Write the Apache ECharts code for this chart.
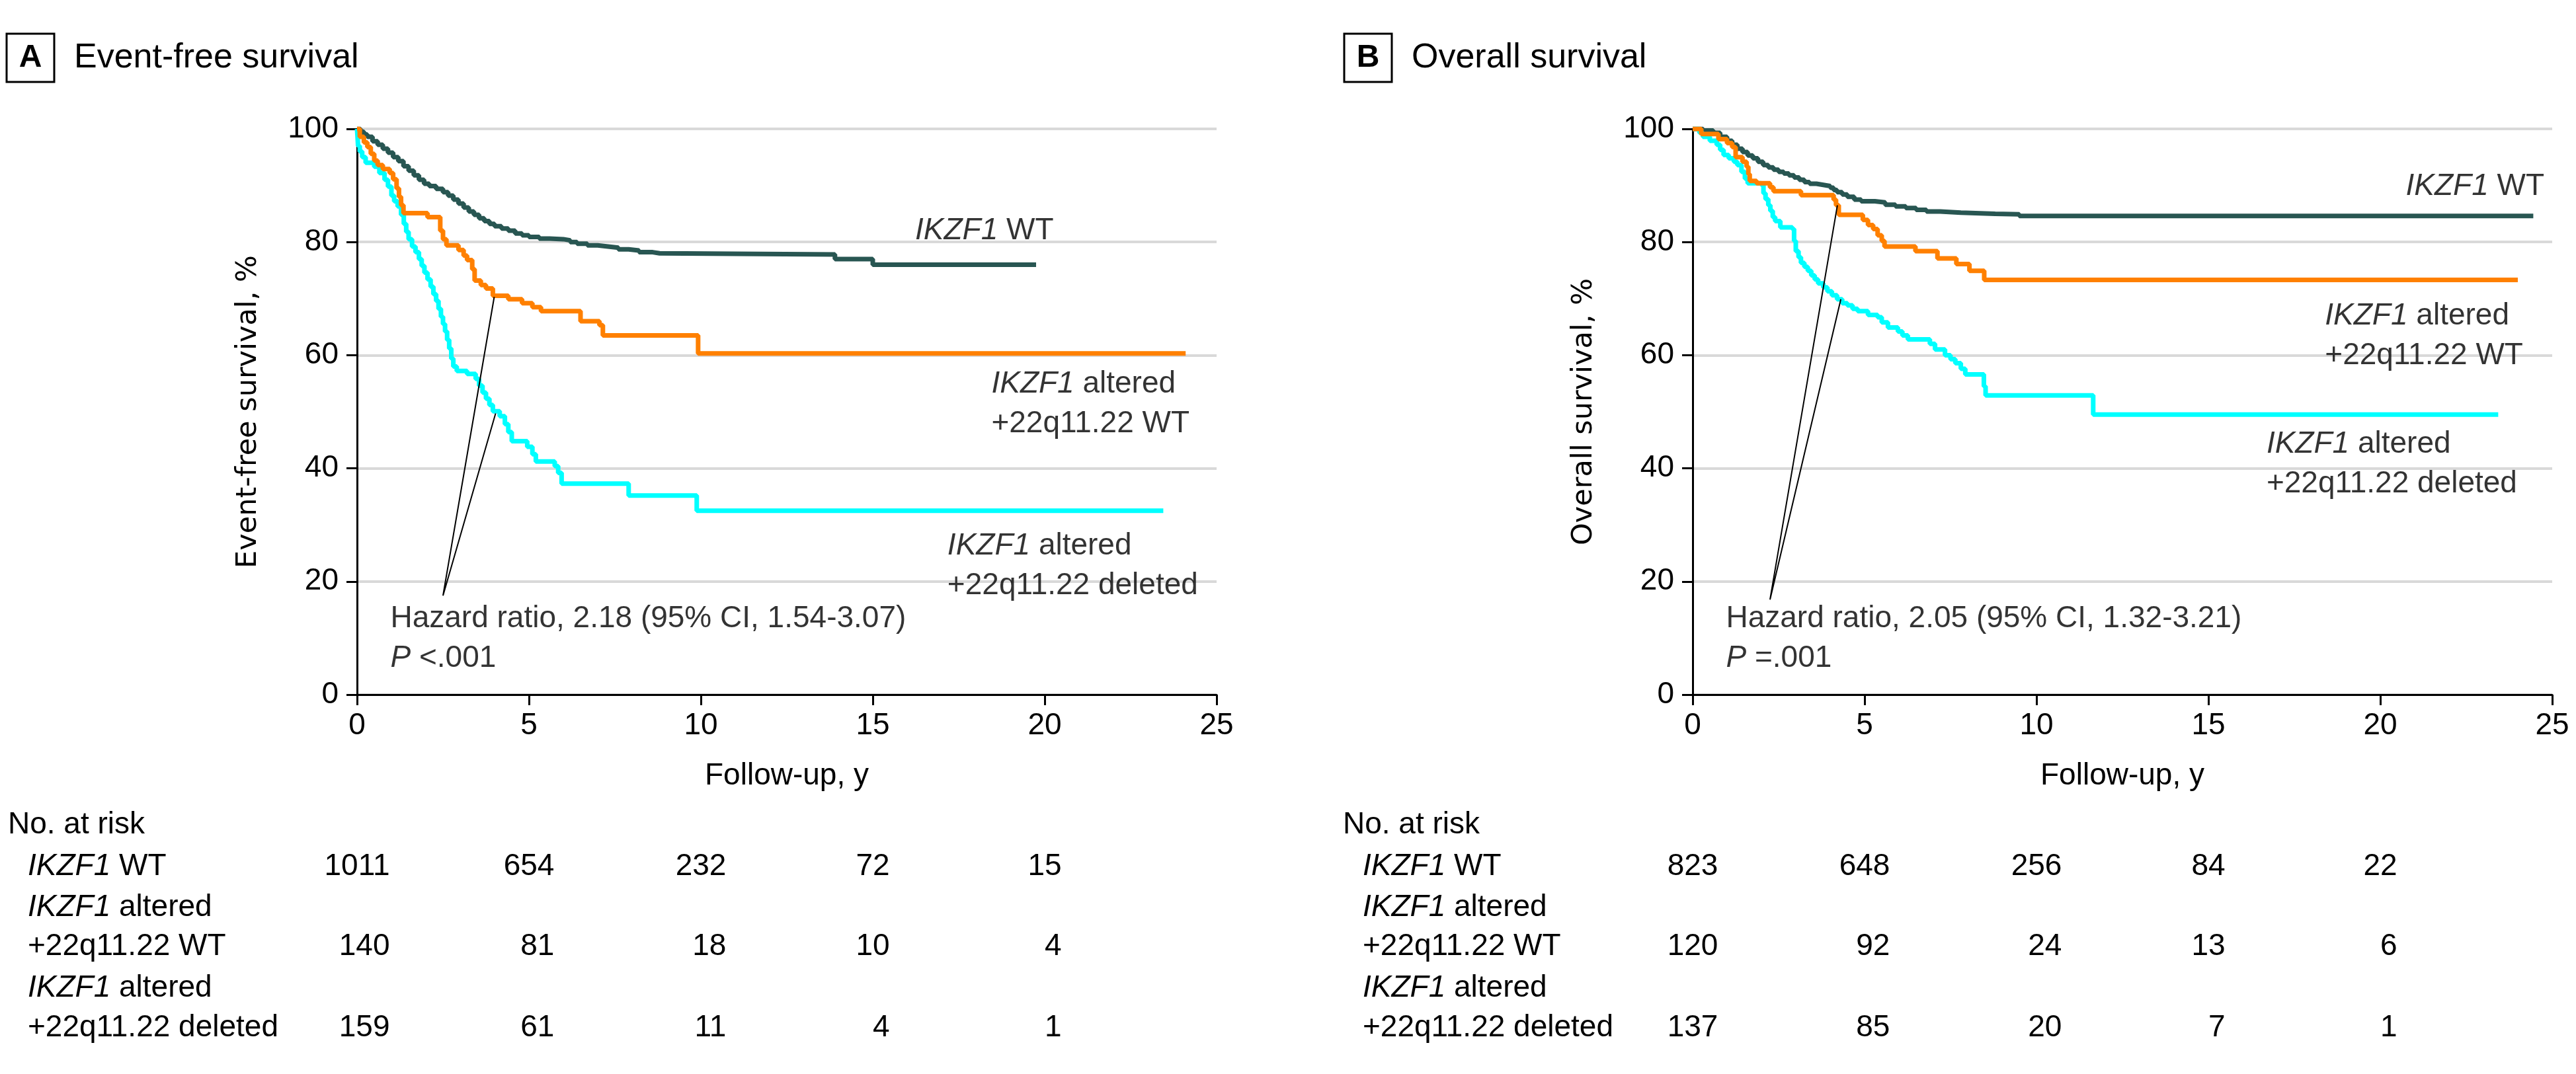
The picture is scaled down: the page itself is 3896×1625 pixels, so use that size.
<!DOCTYPE html>
<html>
<head>
<meta charset="utf-8">
<title>IKZF1 survival</title>
<script src="https://cdn.jsdelivr.net/npm/echarts@6/dist/echarts.min.js"></script>
<style>
    html, body { margin: 0; padding: 0; background: #fff; }
    #main { width: 3896px; height: 1625px; }
</style>
</head>
<body>
<div id="main"></div>
<script>
// ---- data ----
var riskTimes = [0, 5, 10, 15, 20];
var groupNames = ['IKZF1 WT', 'IKZF1 altered + 22q11.22 WT', 'IKZF1 altered + 22q11.22 deleted'];
var groupColors = ['#285652', '#ff8000', '#00ffff'];

// A: event-free survival, [year, % after the step]
var efsWT = [[0,100],[0.1,99.5],[0.2,99],[0.3,98.6],[0.45,97.8],[0.6,97.2],[0.75,96.5],[0.9,95.8],[1.05,95],[1.2,94.3],[1.35,93.4],[1.5,92.6],[1.65,91.8],[1.8,91],[1.95,90.3],[2.1,89.9],[2.3,89.4],[2.5,88.8],[2.65,88.2],[2.8,87.5],[2.95,86.8],[3.1,86.1],[3.25,85.4],[3.4,84.8],[3.55,84.2],[3.7,83.7],[3.85,83.2],[4,82.8],[4.2,82.4],[4.4,82],[4.6,81.5],[4.8,81.2],[5,80.9],[5.3,80.6],[5.6,80.5],[6,80.3],[6.2,80],[6.4,79.7],[6.7,79.4],[7,79.2],[7.3,79],[7.6,78.7],[7.9,78.5],[8.2,78.2],[8.6,78],[8.8,77.8],[13.9,77],[15,76],[19.75,76]];
var efsAltWT = [[0,100],[0.08,98.6],[0.2,97.6],[0.3,96.8],[0.4,95.6],[0.5,94.4],[0.6,93.6],[0.75,92.9],[0.95,92.2],[1.05,91.1],[1.15,89.5],[1.22,88],[1.28,86.5],[1.35,85.1],[2.05,84.4],[2.42,82],[2.5,80.5],[2.6,79.4],[2.95,78.6],[3.1,77.6],[3.2,76.8],[3.35,75.2],[3.42,73.2],[3.6,72.4],[3.75,71.8],[3.95,70.5],[4.4,69.9],[4.8,69.2],[5.1,68.5],[5.35,67.8],[6.5,66],[7.05,65.3],[7.15,63.5],[9.92,60.3],[24.1,60.3]];
var efsAltDel = [[0,100],[0.03,97],[0.08,96],[0.15,95],[0.25,94],[0.5,93.3],[0.65,92.2],[0.8,91],[0.9,89.8],[1,88.2],[1.08,87.2],[1.18,86.3],[1.28,84.8],[1.36,83.2],[1.43,81.8],[1.5,80.5],[1.6,79.2],[1.7,78.2],[1.8,77],[1.88,75.8],[1.96,74.6],[2.05,73.4],[2.14,72.1],[2.22,70.8],[2.3,69.6],[2.37,68.2],[2.44,66.8],[2.5,65.5],[2.56,64.2],[2.62,62.7],[2.68,61.2],[2.74,59.4],[2.8,58],[2.9,57.2],[3.2,56.7],[3.45,55.8],[3.55,54.6],[3.65,53.4],[3.75,52.3],[3.85,51.2],[3.95,50.1],[4.15,49.2],[4.3,47.8],[4.4,46.4],[4.5,44.8],[4.95,43.8],[5.1,42.5],[5.2,41.2],[5.75,40.4],[5.85,39.2],[5.95,37.3],[7.9,35.2],[9.88,32.5],[23.45,32.5]];

// B: overall survival
var osWT = [[0,100],[0.3,99.7],[0.6,99.3],[0.8,98.6],[1,97.9],[1.15,97.2],[1.3,96.5],[1.45,95.9],[1.6,95.3],[1.75,94.8],[1.9,94.2],[2.05,93.6],[2.2,93.2],[2.35,92.8],[2.5,92.4],[2.65,92.1],[2.8,91.8],[2.95,91.4],[3.1,91],[3.25,90.6],[3.4,90.3],[3.6,90.1],[3.8,89.9],[4,89.6],[4.1,89.2],[4.2,88.8],[4.35,88.4],[4.5,88],[4.7,87.5],[4.9,87.2],[5.3,87],[5.6,86.6],[5.9,86.3],[6.2,86],[6.5,85.7],[6.8,85.4],[7.2,85.2],[7.8,85],[8.8,84.9],[9.5,84.6],[24.45,84.6]];
var osAltWT = [[0,100],[0.25,99.1],[0.75,98.2],[1,97.5],[1.15,96.8],[1.25,95],[1.45,94.2],[1.57,93.3],[1.62,92],[1.66,90.8],[1.86,90.4],[2.25,89.7],[2.35,89],[3.15,88.3],[4.1,87.5],[4.17,86.5],[4.25,84.8],[4.95,83.9],[5.1,83],[5.25,82.3],[5.38,81.2],[5.5,80.2],[5.58,79.2],[6.48,78.4],[7.12,77.1],[7.67,76.1],[8.05,74.9],[8.48,73.3],[24,73.3]];
var osAltDel = [[0,100],[0.2,99.3],[0.3,98.6],[0.5,97.9],[0.7,97.2],[0.8,96.3],[0.9,95.4],[1.05,94.8],[1.2,94.2],[1.3,93.6],[1.42,92.4],[1.52,91.2],[1.6,90.4],[2,90.1],[2.06,88.6],[2.12,87.6],[2.2,86.5],[2.26,85.5],[2.33,84.4],[2.4,83.7],[2.55,82.6],[2.9,82.3],[2.95,80.2],[3,78.4],[3.08,77.3],[3.15,76.3],[3.25,75.6],[3.35,74.9],[3.45,74.1],[3.55,73.4],[3.65,72.7],[3.8,72],[3.92,71.3],[4.05,70.6],[4.2,69.9],[4.35,69.2],[4.5,68.8],[4.65,68.2],[4.8,67.8],[5.1,67.1],[5.38,66.7],[5.5,65.8],[5.68,64.9],[5.97,64.2],[6.1,63.5],[6.26,62.8],[6.9,62],[7.05,61],[7.34,60],[7.5,59.3],[7.64,58.6],[7.8,57.6],[7.93,56.6],[8.47,54.5],[8.52,52.9],[11.65,49.5],[23.43,49.5]];

// numbers at risk, rows follow groupNames
var efsRisk = [[1011, 654, 232, 72, 15], [140, 81, 18, 10, 4], [159, 61, 11, 4, 1]];
var osRisk = [[823, 648, 256, 84, 22], [120, 92, 24, 13, 6], [137, 85, 20, 7, 1]];

var efsHazard = ['Hazard ratio, 2.18 (95% CI, 1.54-3.07)', '<.001'];
var osHazard = ['Hazard ratio, 2.05 (95% CI, 1.32-3.21)', '=.001'];

// ---- layout ----
var FONT = '"Liberation Sans", Arial, sans-serif';
var FS = 46;

var panels = [
    {
        letter: 'A', title: 'Event-free survival', yName: 'Event-free survival, %',
        curves: [efsWT, efsAltWT, efsAltDel], risk: efsRisk, hazard: efsHazard,
        gridLeft: 540, boxX: 10, tableX: 12,
        // pointer lines: curve tip, bottom, curve tip
        pointer: [[3.99, 70.3], [2.5, 17.5], [4.03, 49.7]],
        // label anchors: left edge / vertical middle in data units
        labelAt: [[16.24, 81.9], [18.46, 51.3], [17.18, 22.7], [0.98, 9.8]]
    },
    {
        letter: 'B', title: 'Overall survival', yName: 'Overall survival, %',
        curves: [osWT, osAltWT, osAltDel], risk: osRisk, hazard: osHazard,
        gridLeft: 2560, boxX: 2033, tableX: 2031,
        pointer: [[4.21, 86.5], [2.25, 16.8], [4.31, 69.9]],
        labelAt: [[20.75, 89.7], [18.4, 63.35], [16.7, 40.7], [0.98, 9.8]]
    }
];

// label rich styles (series labels use color, raw graphic text uses fill)
var rich = {
    i: { fontStyle: 'italic', fontSize: FS, fontFamily: FONT, color: '#000', lineHeight: 60 },
    n: { fontSize: FS, fontFamily: FONT, color: '#000', lineHeight: 60 }
};
var richG = {
    i: { fontStyle: 'italic', fontSize: FS, fontFamily: FONT, fill: '#000' },
    n: { fontSize: FS, fontFamily: FONT, fill: '#000' }
};
var curveLabels = [
    '{i|IKZF1}{n| WT}',
    '{i|IKZF1}{n| altered}\n{n|+22q11.22 WT}',
    '{i|IKZF1}{n| altered}\n{n|+22q11.22 deleted}'
];

var myChart = echarts.init(document.getElementById('main'), null, { renderer: 'canvas' });

var grids = [], xAxes = [], yAxes = [], series = [];
panels.forEach(function (p, i) {
    grids.push({ left: p.gridLeft, top: 195, width: 1300, height: 856, outerBoundsMode: 'none' });
    xAxes.push({
        gridIndex: i, type: 'value', min: 0, max: 25, interval: 5,
        name: 'Follow-up, y', nameLocation: 'middle', nameGap: 100,
        nameTextStyle: { fontSize: FS, fontFamily: FONT, color: '#000' },
        axisLine: { show: true, onZero: false, lineStyle: { color: '#000', width: 3 } },
        axisTick: { show: true, length: 16, lineStyle: { color: '#000', width: 3 } },
        axisLabel: { fontSize: FS, fontFamily: FONT, color: '#000', margin: 24 },
        splitLine: { show: false }
    });
    yAxes.push({
        gridIndex: i, type: 'value', min: 0, max: 100, interval: 20,
        name: p.yName, nameLocation: 'middle', nameRotate: 90, nameGap: 143,
        nameTextStyle: { fontSize: 43, fontFamily: '"DejaVu Sans", sans-serif', color: '#000' },
        axisLine: { show: true, onZero: false, lineStyle: { color: '#000', width: 3 } },
        axisTick: { show: true, length: 16, lineStyle: { color: '#000', width: 3 } },
        axisLabel: { fontSize: FS, fontFamily: FONT, color: '#000', margin: 28 },
        splitLine: { show: true, lineStyle: { color: '#d9d9d9', width: 4 } }
    });

    // dark, cyan, then orange on top
    [0, 2, 1].forEach(function (g) {
        series.push({
            name: groupNames[g], type: 'line', xAxisIndex: i, yAxisIndex: i,
            data: p.curves[g], step: 'end', symbol: 'none', silent: true,
            lineStyle: { color: groupColors[g], width: 7 }, z: 3
        });
    });

    series.push({
        type: 'line', xAxisIndex: i, yAxisIndex: i, data: p.pointer,
        symbol: 'none', silent: true, lineStyle: { color: '#000', width: 2 }, z: 4
    });

    var labelTexts = curveLabels.concat(
        '{n|' + p.hazard[0] + '}\n{i|P}{n| ' + p.hazard[1] + '}'
    );
    series.push({
        type: 'scatter', xAxisIndex: i, yAxisIndex: i, silent: true, symbolSize: 1,
        itemStyle: { color: 'transparent' }, z: 5,
        data: p.labelAt.map(function (pt, k) {
            return {
                value: pt,
                label: {
                    show: true, position: [0, 0], align: 'left', verticalAlign: 'middle',
                    color: '#000', fontSize: FS, fontFamily: FONT,
                    formatter: labelTexts[k], rich: rich, lineHeight: 60
                }
            };
        })
    });
});

var option = {
    animation: false,
    backgroundColor: '#fff',
    grid: grids,
    xAxis: xAxes,
    yAxis: yAxes,
    series: series
};
myChart.setOption(option);

/* 标题和风险人数表 */
function textWidth(str) {
    var ctx = document.createElement('canvas').getContext('2d');
    ctx.font = FS + 'px ' + FONT;
    return ctx.measureText(str).width;
}

var graphics = [];
var rowY = [1311, 1373, 1432, 1495, 1555];
var rowText = ['{i|IKZF1}{n| WT}', '{i|IKZF1}{n| altered}', '{n|+22q11.22 WT}', '{i|IKZF1}{n| altered}', '{n|+22q11.22 deleted}'];
var numRow = [0, 2, 4];

panels.forEach(function (p, i) {
    graphics.push({
        type: 'rect', shape: { x: p.boxX, y: 51, width: 72, height: 73 },
        style: { fill: '#fff', stroke: '#000', lineWidth: 3 }
    });
    graphics.push({
        type: 'text',
        style: { text: p.letter, x: p.boxX + 36, y: 88, align: 'center', verticalAlign: 'middle',
            font: 'bold 48px ' + FONT, fill: '#000' }
    });
    graphics.push({
        type: 'text',
        style: { text: p.title, x: p.boxX + 102, y: 88, align: 'left', verticalAlign: 'middle',
            font: '52px ' + FONT, fill: '#000' }
    });
    graphics.push({
        type: 'text',
        style: { text: 'No. at risk', x: p.tableX, y: 1248, align: 'left', verticalAlign: 'middle',
            font: FS + 'px ' + FONT, fill: '#000' }
    });
    rowText.forEach(function (t, r) {
        graphics.push({
            type: 'text',
            style: { text: t, rich: richG, x: p.tableX + 30, y: rowY[r], align: 'left', verticalAlign: 'middle',
                font: FS + 'px ' + FONT, fill: '#000' }
        });
    });
    riskTimes.forEach(function (t, c) {
        var x = myChart.convertToPixel({ xAxisIndex: i }, t);
        var widest = 0;
        p.risk.forEach(function (row) { widest = Math.max(widest, textWidth(String(row[c]))); });
        p.risk.forEach(function (row, g) {
            graphics.push({
                type: 'text',
                style: { text: String(row[c]), x: x + widest / 2, y: rowY[numRow[g]], align: 'right',
                    verticalAlign: 'middle', font: FS + 'px ' + FONT, fill: '#000' }
            });
        });
    });
});

myChart.setOption({ graphic: graphics });
</script>
</body>
</html>
